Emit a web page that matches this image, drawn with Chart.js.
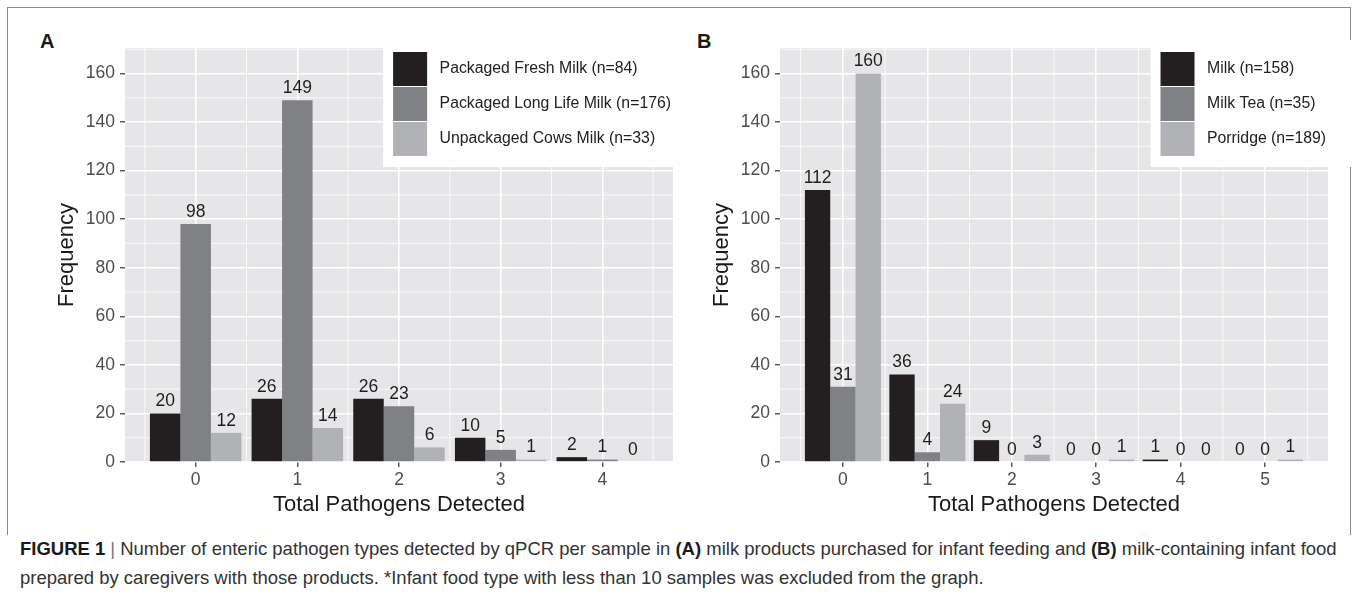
<!DOCTYPE html>
<html lang="en">
<head>
  <meta charset="utf-8" />
  <title>Figure 1 – enteric pathogens per sample</title>
  <script src="https://cdn.jsdelivr.net/npm/chart.js@4.4.4/dist/chart.umd.min.js"></script>
  <style>
    body { margin: 0; background: #fff; }
    #fig { position: relative; width: 1354px; height: 608px; overflow: hidden; font-family: 'Liberation Sans', Arial, sans-serif; }
    #frame { position: absolute; left: 7px; top: 7px; width: 1342px; height: 527px; border: 1.5px solid #8a8a8a; border-bottom: none; }
    .tag { position: absolute; top: 31px; font-size: 20px; line-height: 20px; font-weight: bold; color: #1a1a1a; }
    canvas { position: absolute; top: 0; }
    #caption { position: absolute; left: 20px; top: 534px; font-size: 18.5px; line-height: 29px; color: #333; white-space: nowrap; }
    #caption b { color: #1a1a1a; }
    #caption .sep { color: #777; margin: 0 5px; }
  </style>
</head>
<body>
  <div id="fig">
    <div id="frame"></div>
    <div class="tag" style="left:40px">A</div>
    <div class="tag" style="left:697px">B</div>
    <canvas id="chartA" width="677" height="530" style="left:0"></canvas>
    <canvas id="chartB" width="699" height="530" style="left:655px"></canvas>
    <div id="caption"><b>FIGURE 1</b><span class="sep">|</span>Number of enteric pathogen types detected by qPCR per sample in <b>(A)</b> milk products purchased for infant feeding and <b>(B)</b> milk-containing infant food<br>prepared by caregivers with those products. *Infant food type with less than 10 samples was excluded from the graph.</div>
  </div>

  <script>
    // panel A: milk products
    const milkCounts = [0, 1, 2, 3, 4];
    const milkLabels = ['Packaged Fresh Milk (n=84)', 'Packaged Long Life Milk (n=176)', 'Unpackaged Cows Milk (n=33)'];
    const freshMilk = [20, 26, 26, 10, 2];
    const longLifeMilk = [98, 149, 23, 5, 1];
    const unpackagedMilk = [12, 14, 6, 1, 0];

    // panel B: infant food
    const foodCounts = [0, 1, 2, 3, 4, 5];
    const foodLabels = ['Milk (n=158)', 'Milk Tea (n=35)', 'Porridge (n=189)'];
    const milkFood = [112, 36, 9, 0, 1, 0];
    const milkTea = [31, 4, 0, 0, 0, 0];
    const porridge = [160, 24, 3, 1, 0, 1];

    const yTicks = [0, 20, 40, 60, 80, 100, 120, 140, 160];
    const yMinor = [10, 30, 50, 70, 90, 110, 130, 150, 170];
    const greys = ['#231f20', '#808184', '#b1b2b5'];

    Chart.defaults.font.family = "'Liberation Sans', Arial, sans-serif";

    // grey panel + thin minor grid lines, drawn before the major grid
    const panelBg = {
      id: 'panelBg',
      beforeDraw(chart, args, opts) {
        const { ctx, chartArea: a, scales: { x, y } } = chart;
        ctx.save();
        ctx.fillStyle = '#e6e6e8';
        ctx.fillRect(a.left, a.top, a.width, a.height);
        ctx.strokeStyle = '#fff';
        ctx.lineWidth = 0.8;
        ctx.beginPath();
        opts.xMinor.forEach(v => {
          const px = x.getPixelForValue(v);
          ctx.moveTo(px, a.top); ctx.lineTo(px, a.bottom);
        });
        yMinor.forEach(v => {
          const py = y.getPixelForValue(v);
          ctx.moveTo(a.left, py); ctx.lineTo(a.right, py);
        });
        ctx.stroke();
        ctx.restore();
      }
    };

    // value above every bar
    const barValues = {
      id: 'barValues',
      afterDatasetsDraw(chart) {
        const ctx = chart.ctx;
        ctx.save();
        ctx.font = "17.5px 'Liberation Sans', Arial, sans-serif";
        ctx.fillStyle = '#1f1f1f';
        ctx.textAlign = 'center';
        ctx.textBaseline = 'middle';
        chart.data.datasets.forEach((ds, i) => {
          chart.getDatasetMeta(i).data.forEach((bar, j) => {
            ctx.fillText(String(ds.data[j].y), bar.x, bar.y - 12);
          });
        });
        ctx.restore();
      }
    };

    // ggplot-like legend sitting in the top right corner of the panel
    const keyLegend = {
      id: 'keyLegend',
      afterDraw(chart) {
        const { ctx, chartArea: a } = chart;
        ctx.save();
        ctx.font = "15.8px 'Liberation Sans', Arial, sans-serif";
        const sets = chart.data.datasets;
        const textW = Math.max(...sets.map(ds => ctx.measureText(ds.label).width));
        const textX = a.right - 2 - textW;
        const keyX = textX - 46.5;
        ctx.fillStyle = '#fff';
        ctx.fillRect(keyX - 10, a.top - 8, chart.width - keyX + 10, 127);
        ctx.textBaseline = 'middle';
        sets.forEach((ds, i) => {
          const top = a.top + 4 + i * 35;
          ctx.fillStyle = ds.backgroundColor;
          ctx.fillRect(keyX, top, 34, 34);
          ctx.fillStyle = '#222';
          ctx.fillText(ds.label, textX, top + 17);
        });
        ctx.restore();
      }
    };

    function makeChart(id, cats, labels, series, padRight) {
      // ggplot style continuous x range: bars +-0.45, then 5% expansion
      const lo = cats[0] - 0.45;
      const hi = cats[cats.length - 1] + 0.45;
      const pad = (hi - lo) * 0.05;
      const xMinor = cats.map(c => c - 0.5).concat([cats[cats.length - 1] + 0.5]);

      const gridStyle = {
        color: '#fff',
        lineWidth: 1.6,
        tickColor: '#333',
        tickLength: 5,
        tickWidth: 1.2,
        offset: false
      };

      return new Chart(document.getElementById(id), {
        type: 'bar',
        data: {
          datasets: series.map((vals, i) => ({
            label: labels[i],
            data: vals.map((v, j) => ({ x: cats[j], y: v })),
            backgroundColor: greys[i],
            borderWidth: 0,
            categoryPercentage: 0.9,
            barPercentage: 1
          }))
        },
        options: {
          responsive: false,
          animation: false,
          layout: { padding: { top: 48, left: 0, right: padRight, bottom: 6 } },
          plugins: {
            legend: { display: false },
            tooltip: { enabled: false },
            panelBg: { xMinor: xMinor }
          },
          scales: {
            x: {
              type: 'linear',
              offset: false,
              min: lo - pad,
              max: hi + pad,
              afterBuildTicks: s => { s.ticks = cats.map(v => ({ value: v })); },
              afterFit: s => { s.height = 62; },
              grid: gridStyle,
              border: { display: false },
              ticks: { padding: 3, color: '#4d4d4d', font: { size: 17.5 }, autoSkip: false, maxRotation: 0 },
              title: {
                display: true,
                text: 'Total Pathogens Detected',
                color: '#1a1a1a',
                font: { size: 22 },
                padding: { top: 0, bottom: 6 }
              }
            },
            y: {
              min: 0,
              max: 170.5,
              afterBuildTicks: s => { s.ticks = yTicks.map(v => ({ value: v })); },
              afterFit: s => { s.width = 125; },
              grid: gridStyle,
              border: { display: false },
              ticks: { padding: 5, color: '#4d4d4d', font: { size: 17.5 } },
              title: {
                display: true,
                text: 'Frequency',
                color: '#1a1a1a',
                font: { size: 22 },
                padding: { top: 54, bottom: 0 }
              }
            }
          }
        },
        plugins: [panelBg, barValues, keyLegend]
      });
    }

    makeChart('chartA', milkCounts, milkLabels, [freshMilk, longLifeMilk, unpackagedMilk], 4);
    makeChart('chartB', foodCounts, foodLabels, [milkFood, milkTea, porridge], 26);
  </script>
</body>
</html>
